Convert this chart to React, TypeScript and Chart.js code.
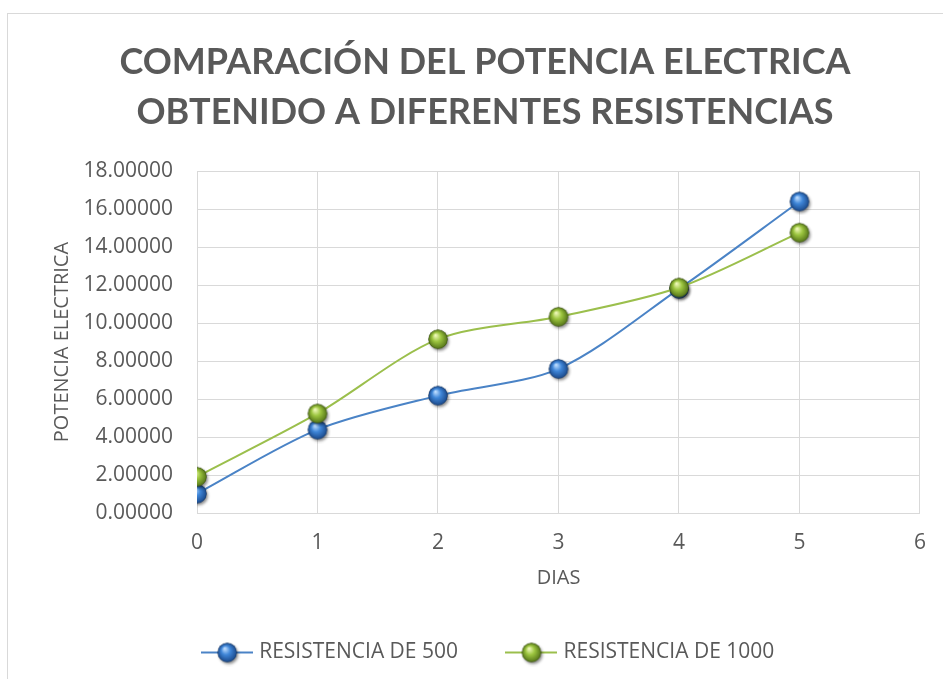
import React, { useEffect, useRef } from "react";
import { Chart, registerables } from "chart.js";

Chart.register(...registerables);

const xValues = [0, 1, 2, 3, 4, 5];
const res500 = [1.02, 4.39, 6.18, 7.59, 11.8, 16.4];
const res1000 = [1.91, 5.24, 9.15, 10.33, 11.87, 14.76];
const titleLines = ["COMPARACIÓN DEL POTENCIA ELECTRICA", "OBTENIDO A DIFERENTES RESISTENCIAS"];
const seriesNames = ["RESISTENCIA DE 500", "RESISTENCIA DE 1000"];
const xTitle = "DIAS";
const yTitle = "POTENCIA ELECTRICA";

const BLUE_LINE = "#4a83c6";
const GREEN_LINE = "#9bbf4c";
const TEXT = "#595959";
const GRID = "#d9d9d9";
const FONT = "'Open Sans', sans-serif";

function sphere(light: string, mid: string, dark: string, withLine: string | null) {
  const w = withLine ? 52 : 28;
  const h = 28;
  const c = document.createElement("canvas");
  c.width = w;
  c.height = h;
  const ctx = c.getContext("2d")!;
  const cx = w / 2;
  const cy = h / 2;
  if (withLine) {
    ctx.strokeStyle = withLine;
    ctx.lineWidth = 2;
    ctx.beginPath();
    ctx.moveTo(0, cy);
    ctx.lineTo(w, cy);
    ctx.stroke();
  }
  const r = 9.5;
  ctx.save();
  ctx.shadowColor = "rgba(0,0,0,0.45)";
  ctx.shadowBlur = 3;
  ctx.shadowOffsetX = 1.5;
  ctx.shadowOffsetY = 2;
  ctx.beginPath();
  ctx.arc(cx, cy, r, 0, Math.PI * 2);
  ctx.fillStyle = dark;
  ctx.fill();
  ctx.restore();
  const g = ctx.createRadialGradient(cx - 2.5, cy - 4, 0.5, cx, cy, r);
  g.addColorStop(0, light);
  g.addColorStop(0.45, mid);
  g.addColorStop(1, dark);
  ctx.beginPath();
  ctx.arc(cx, cy, r, 0, Math.PI * 2);
  ctx.fillStyle = g;
  ctx.fill();
  ctx.strokeStyle = "rgba(0,0,0,0.25)";
  ctx.lineWidth = 0.8;
  ctx.stroke();
  return c;
}

const legendShift = {
  id: "legendShift",
  afterLayout(chart: any) {
    const l = chart.legend;
    if (l) {
      l.left += 5;
      l.right += 5;
    }
  },
};

export default function App() {
  const ref = useRef<HTMLCanvasElement>(null);
  useEffect(() => {
    const blueP = sphere("#bcdcff", "#3f86d8", "#1b4a8c", null);
    const greenP = sphere("#eef8b8", "#9cc53f", "#557519", null);
    const blueL = sphere("#bcdcff", "#3f86d8", "#1b4a8c", BLUE_LINE);
    const greenL = sphere("#eef8b8", "#9cc53f", "#557519", GREEN_LINE);
    const chart = new Chart(ref.current!, {
      type: "scatter",
      data: {
        datasets: [
          {
            label: seriesNames[1],
            data: xValues.map((x, i) => ({ x, y: res1000[i] })),
            showLine: true,
            borderColor: GREEN_LINE,
            borderWidth: 2,
            tension: 0.3,
            pointStyle: greenP as any,
            pointRadius: 10,
          },
          {
            label: seriesNames[0],
            data: xValues.map((x, i) => ({ x, y: res500[i] })),
            showLine: true,
            borderColor: BLUE_LINE,
            borderWidth: 2,
            tension: 0.3,
            pointStyle: blueP as any,
            pointRadius: 10,
          },
        ],
      },
      plugins: [legendShift],
      options: {
        animation: false,
        responsive: false,
        layout: { padding: { left: 50, right: 23, top: 0, bottom: 6 } },
        plugins: {
          tooltip: { enabled: false },
          title: {
            display: true,
            text: titleLines,
            color: TEXT,
            font: { family: "Lato, 'Open Sans', sans-serif", size: 36, weight: "bold", lineHeight: 1.39 },
            padding: { top: 37, bottom: 34 },
          },
          legend: {
            position: "bottom",
            reverse: true,
            labels: {
              color: TEXT,
              font: { family: FONT, size: 21 },
              usePointStyle: true,
              pointStyleWidth: 43,
              boxHeight: 20,
              padding: 52,
              generateLabels: (ch: any) => {
                return ch.data.datasets.map((ds: any, i: number) => ({
                  text: ds.label,
                  pointStyle: i === 0 ? greenL : blueL,
                  fillStyle: "transparent",
                  strokeStyle: "transparent",
                  lineWidth: 0,
                  hidden: false,
                  datasetIndex: i,
                  fontColor: TEXT,
                }));
              },
            },
          },
        },
        scales: {
          x: {
            type: "linear",
            min: 0,
            max: 6,
            ticks: {
              stepSize: 1,
              color: TEXT,
              padding: 17,
              font: { family: FONT, size: 21 },
            },
            grid: { color: GRID, lineWidth: 1, drawTicks: false },
            border: { color: GRID },
            title: {
              display: true,
              text: xTitle,
              color: TEXT,
              padding: { top: 0, bottom: 0 },
              font: { family: FONT, size: 20 },
            },
            afterFit: (s: any) => {
              s.height = 77;
            },
          },
          y: {
            type: "linear",
            min: 0,
            max: 18,
            ticks: {
              stepSize: 2,
              color: TEXT,
              padding: 24,
              font: { family: FONT, size: 21 },
              callback: (v: any) => Number(v).toFixed(5),
            },
            grid: { color: GRID, lineWidth: 1, drawTicks: false },
            border: { color: GRID },
            title: {
              display: true,
              text: yTitle,
              color: TEXT,
              padding: { top: 0, bottom: 0 },
              font: { family: FONT, size: 20 },
            },
            afterFit: (s: any) => {
              s.width = 147;
            },
          },
        },
      },
    });
    return () => chart.destroy();
  }, []);
  return (
    <div style={{ position: "fixed", left: 0, top: 0, width: 943, height: 679, background: "#fff", overflow: "hidden" }}>
      <div style={{ position: "absolute", left: 7, top: 13, width: 960, height: 700, border: "1px solid #d9d9d9", boxSizing: "border-box" }} />
      <canvas ref={ref} width={943} height={679} style={{ position: "absolute", left: 0, top: 0, width: 943, height: 679 }} />
    </div>
  );
}
